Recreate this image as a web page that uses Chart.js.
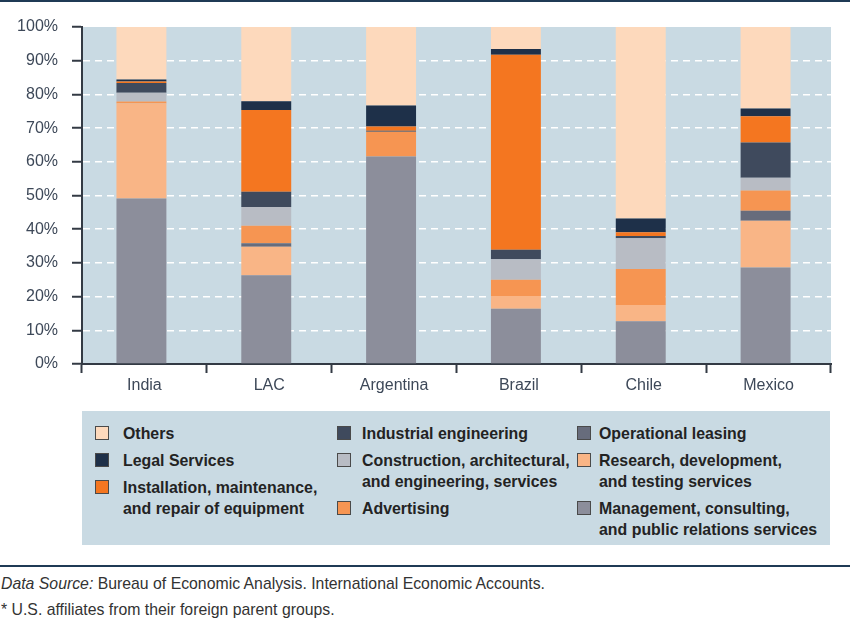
<!DOCTYPE html>
<html>
<head>
<meta charset="utf-8">
<script src="https://cdn.jsdelivr.net/npm/chart.js@4.4.0/dist/chart.umd.min.js"></script>
<style>
    body { margin: 0; background: #fff; font-family: "Liberation Sans", Arial, sans-serif; }
    #page { position: relative; width: 850px; height: 621px; overflow: hidden; }
    #topRule { position: absolute; left: 0; top: 0; width: 850px; height: 2px; background: #1f3a55; }
    #chartBox { position: absolute; left: 0; top: 0; width: 850px; height: 395px; }
    #legend { position: absolute; left: 82px; top: 411px; width: 748px; height: 134px; background: #c9dae3; }
    .item { position: absolute; font-size: 17px; font-weight: bold; color: #232323; line-height: 21px; }
    .item .txt { display: inline-block; white-space: nowrap; transform: scaleX(0.935); transform-origin: left center; }
    .item .sw { position: absolute; top: 3px; width: 14px; height: 14px; border: 1px solid #4a4a4a; box-sizing: border-box; }
    #footRule { position: absolute; left: 0; top: 565px; width: 850px; height: 2px; background: #1f3a55; }
    .foot { position: absolute; left: 1px; font-size: 17px; color: #333; white-space: nowrap; transform: scaleX(0.93); transform-origin: left center; }
</style>
</head>
<body>
<div id="page">
    <div id="chartBox"><canvas id="shareChart"></canvas></div>
    <div id="topRule"></div>
    <div id="legend"></div>
    <div id="footRule"></div>
    <div class="foot" style="top:574px"><i>Data Source:</i> Bureau of Economic Analysis. International Economic Accounts.</div>
    <div class="foot" style="top:600px">* U.S. affiliates from their foreign parent groups.</div>
</div>
<script>
// Categories and tick labels
const countries = ['India', 'LAC', 'Argentina', 'Brazil', 'Chile', 'Mexico'];
const yTicks = [0, 10, 20, 30, 40, 50, 60, 70, 80, 90, 100];

// Shares (%) by service type, bottom of the stack first
const management   = [49.1, 26.3, 61.6, 16.4, 12.7, 28.6];
const research     = [28.2,  8.5,  0.0,  3.8,  4.8, 13.9];
const opLeasing    = [ 0.0,  1.0,  0.0,  0.0,  0.0,  3.0];
const advertising  = [ 0.6,  5.2,  7.3,  4.8, 10.7,  6.0];
const construction = [ 2.6,  5.6,  0.0,  6.1,  9.1,  3.8];
const industrial   = [ 2.9,  4.5,  0.3,  2.8,  0.7, 10.4];
const installation = [ 0.4, 24.3,  1.3, 57.9,  1.1,  7.8];
const legal        = [ 0.6,  2.6,  6.2,  1.7,  4.1,  2.3];
const others       = [15.6, 22.0, 23.3,  6.5, 56.8, 24.2];

// Colors
const mgmtColor = '#8c8e9b';
const researchColor = '#f9b586';
const leasingColor = '#676c7c';
const advColor = '#f69552';
const constrColor = '#b8bcc4';
const industColor = '#3f4a5d';
const installColor = '#f47620';
const legalColor = '#1e3049';
const othersColor = '#fdd9bc';
const plotBg = '#c9dae3';
const axisColor = '#333a44';
const labelColor = '#3d4858';

const series = [
    { label: 'Management, consulting,\nand public relations services', data: management, color: mgmtColor },
    { label: 'Research, development,\nand testing services', data: research, color: researchColor },
    { label: 'Operational leasing', data: opLeasing, color: leasingColor },
    { label: 'Advertising', data: advertising, color: advColor },
    { label: 'Construction, architectural,\nand engineering, services', data: construction, color: constrColor },
    { label: 'Industrial engineering', data: industrial, color: industColor },
    { label: 'Installation, maintenance,\nand repair of equipment', data: installation, color: installColor },
    { label: 'Legal Services', data: legal, color: legalColor },
    { label: 'Others', data: others, color: othersColor }
];

// Legend (3 columns, as in the source figure): [text left, top, swatch offset]
const legendSpots = {
    'Others': [41, 11.5, -28], 'Legal Services': [41, 38.5, -28], 'Installation, maintenance,\nand repair of equipment': [41, 65.5, -28],
    'Industrial engineering': [280, 11.5, -25], 'Construction, architectural,\nand engineering, services': [280, 38.5, -25], 'Advertising': [280, 86.5, -25],
    'Operational leasing': [517, 11.5, -22], 'Research, development,\nand testing services': [517, 38.5, -22], 'Management, consulting,\nand public relations services': [517, 86.5, -22]
};
const legendEl = document.getElementById('legend');
series.forEach(function(s) {
    const pos = legendSpots[s.label];
    const div = document.createElement('div');
    div.className = 'item';
    div.style.left = pos[0] + 'px';
    div.style.top = pos[1] + 'px';
    div.innerHTML = '<span class="sw" style="left:' + pos[2] + 'px;background:' + s.color + '"></span><span class="txt">' + s.label.replace('\n', '<br>') + '</span>';
    legendEl.appendChild(div);
});

// Plot area background
const plotBackground = {
    id: 'plotBackground',
    beforeDraw: function(chart) {
        const a = chart.chartArea;
        chart.ctx.save();
        chart.ctx.fillStyle = plotBg;
        chart.ctx.fillRect(a.left, a.top, a.right - a.left, a.bottom - a.top);
        chart.ctx.restore();
    }
};

// bars sit a little left of the category centre in the original
const barNudge = {
    id: 'barNudge',
    beforeDatasetsDraw: function(chart) { chart.ctx.save(); chart.ctx.translate(-3, 0); },
    afterDatasetsDraw: function(chart) { chart.ctx.restore(); }
};

const ctx = document.getElementById('shareChart').getContext('2d');
new Chart(ctx, {
    type: 'bar',
    data: {
        labels: countries,
        datasets: series.map(function(s) {
            return {
                label: s.label,
                data: s.data,
                backgroundColor: s.color,
                borderWidth: 0,
                barPercentage: 0.4,
                categoryPercentage: 1.0
            };
        })
    },
    options: {
        responsive: true,
        maintainAspectRatio: false,
        animation: false,
        layout: { padding: { top: 27, right: 19, bottom: 1, left: 0 } },
        scales: {
            x: {
                stacked: true,
                border: { display: true, color: axisColor, width: 2 },
                grid: { drawOnChartArea: false, tickLength: 9, tickColor: axisColor, tickWidth: 2 },
                ticks: { color: labelColor, font: { family: 'Liberation Sans', size: 16 }, padding: 3 },
                afterFit: function(scale) { scale.height = 30; }
            },
            y: {
                stacked: true,
                min: 0,
                max: 100,
                afterBuildTicks: function(scale) {
                    scale.ticks = yTicks.map(function(v) { return { value: v }; });
                },
                border: { display: true, color: axisColor, width: 2, dash: [7, 5] },
                grid: {
                    color: function(c) {
                        return (c.tick && (c.tick.value === 0 || c.tick.value === 100)) ? 'rgba(0,0,0,0)' : '#ffffff';
                    },
                    lineWidth: 1.5,
                    tickColor: axisColor,
                    tickLength: 10,
                    tickWidth: 2
                },
                ticks: {
                    color: labelColor,
                    font: { family: 'Liberation Sans', size: 16 },
                    padding: 14,
                    callback: function(value) { return value + '%'; }
                },
                afterFit: function(scale) { scale.width = 82; }
            }
        },
        plugins: {
            legend: { display: false },
            tooltip: { enabled: false }
        }
    },
    plugins: [plotBackground, barNudge]
});
</script>
</body>
</html>
